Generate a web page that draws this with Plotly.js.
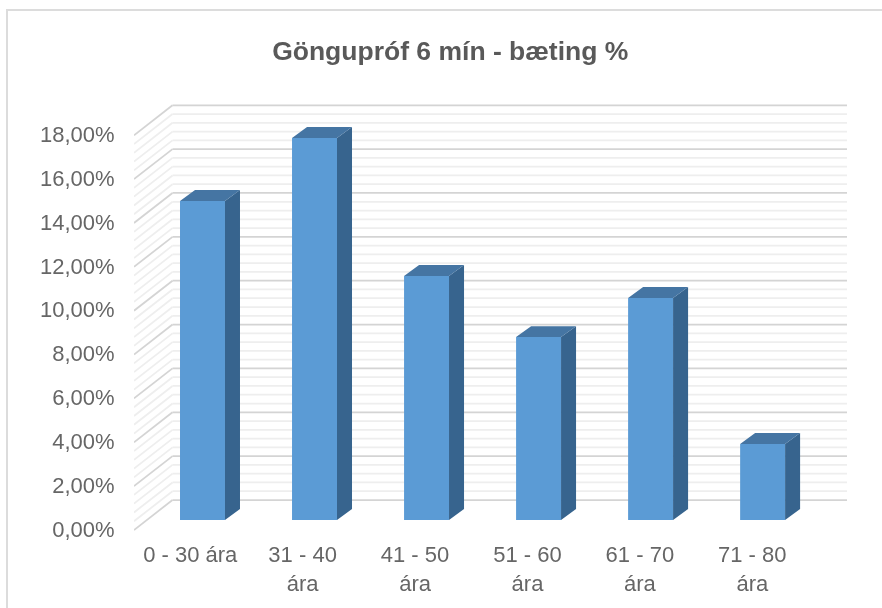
<!DOCTYPE html>
<html>
<head>
<meta charset="utf-8">
<script src="https://cdn.plot.ly/plotly-3.0.1.min.js"></script>
<style>
html,body{margin:0;padding:0;background:#fff;overflow:hidden}
#chart{width:882px;height:608px;filter:blur(0.5px)}
#frame{position:absolute;left:6px;top:9px;right:-4px;bottom:-4px;border:2px solid #dcdcdc;pointer-events:none;filter:blur(0.4px)}
</style>
</head>
<body>
<div id="chart"></div>
<div id="frame"></div>
<script>
const categories = ["0 - 30 ára","31 - 40<br>ára","41 - 50<br>ára","51 - 60<br>ára","61 - 70<br>ára","71 - 80<br>ára"];
const values = [14.55,17.42,11.13,8.34,10.12,3.47];
const yTicks = [0,2,4,6,8,10,12,14,16,18];
const yTickLabels = ["0,00%","2,00%","4,00%","6,00%","8,00%","10,00%","12,00%","14,00%","16,00%","18,00%"];
const titleText = "Göngupróf 6 mín - bæting %";

// oblique projection of the Excel 3-D look, in axis units
const wallDx = 0.3425, wallDy = 1.368;
const barLeft = -0.0907, barWidth = 0.4, barBase = 0.456, barDx = 0.1335, barDy = 0.5, barStep = 0.9965;
const xs = categories.map((c,i)=>i);
const barXs = xs.map(i=>i*barStep);

const shapes = [];
function gridLine(v,color,w){
  const line = {color:color,width:w};
  const common = {type:'line',xref:'x',yref:'y',layer:'below',line:line};
  shapes.push(Object.assign({x0:-0.5,y0:v,x1:-0.5+wallDx,y1:v+wallDy},common));
  shapes.push(Object.assign({x0:-0.5+wallDx,y0:v+wallDy,x1:5.5+wallDx,y1:v+wallDy},common));
}
yTicks.slice(0,-1).forEach(t=>{[0.4,0.8,1.2,1.6].forEach(m=>gridLine(t+m,'#eeeeee',1.75));});
yTicks.forEach(t=>gridLine(t,'#d4d4d4',1.75));

const sideX=[],sideY=[],topX=[],topY=[];
values.forEach((v,i)=>{
  const l=barXs[i]+barLeft, r=l+barWidth, b=barBase, t=barBase+v;
  sideX.push(r,r+barDx,r+barDx,r,r,null);
  sideY.push(b,b+barDy,t+barDy,t,b,null);
  topX.push(l,l+barDx,r+barDx,r,l,null);
  topY.push(t,t+barDy,t+barDy,t,t,null);
});

const traces = [
  {type:'bar',x:barXs,y:values,base:xs.map(()=>barBase),offset:barLeft,width:barWidth,
   marker:{color:'#5b9bd5',line:{width:0}}},
  {type:'scatter',mode:'lines',x:sideX,y:sideY,fill:'toself',fillcolor:'#37648e',line:{width:0,color:'#37648e'}},
  {type:'scatter',mode:'lines',x:topX,y:topY,fill:'toself',fillcolor:'#4575a3',line:{width:0,color:'#4575a3'}}
];

const font = 'Liberation Sans, Arial, sans-serif';
const layout = {
  width:882,height:608,showlegend:false,paper_bgcolor:'#fff',plot_bgcolor:'#fff',
  margin:{l:134,r:35,t:100,b:75},
  title:{text:titleText,x:0.5105,xanchor:'center',y:0.916,yanchor:'middle',
         font:{family:font,size:26.5,color:'#595959',weight:'bold'}},
  xaxis:{range:[-0.5,5.5+wallDx],tickmode:'array',tickvals:xs,ticktext:categories,
         showgrid:false,zeroline:false,showline:false,ticks:'outside',ticklen:2,tickcolor:'rgba(0,0,0,0)',
         tickfont:{family:font,size:22,color:'#666666'}},
  yaxis:{range:[-0.137,19.608],tickmode:'array',tickvals:yTicks,ticktext:yTickLabels,ticklabelshift:-1,
         showgrid:false,zeroline:false,showline:false,ticks:'outside',ticklen:14,tickcolor:'rgba(0,0,0,0)',
         tickfont:{family:font,size:22,color:'#666666'}},
  shapes:shapes
};
Plotly.newPlot('chart',traces,layout,{staticPlot:true,displayModeBar:false});
</script>
</body>
</html>
